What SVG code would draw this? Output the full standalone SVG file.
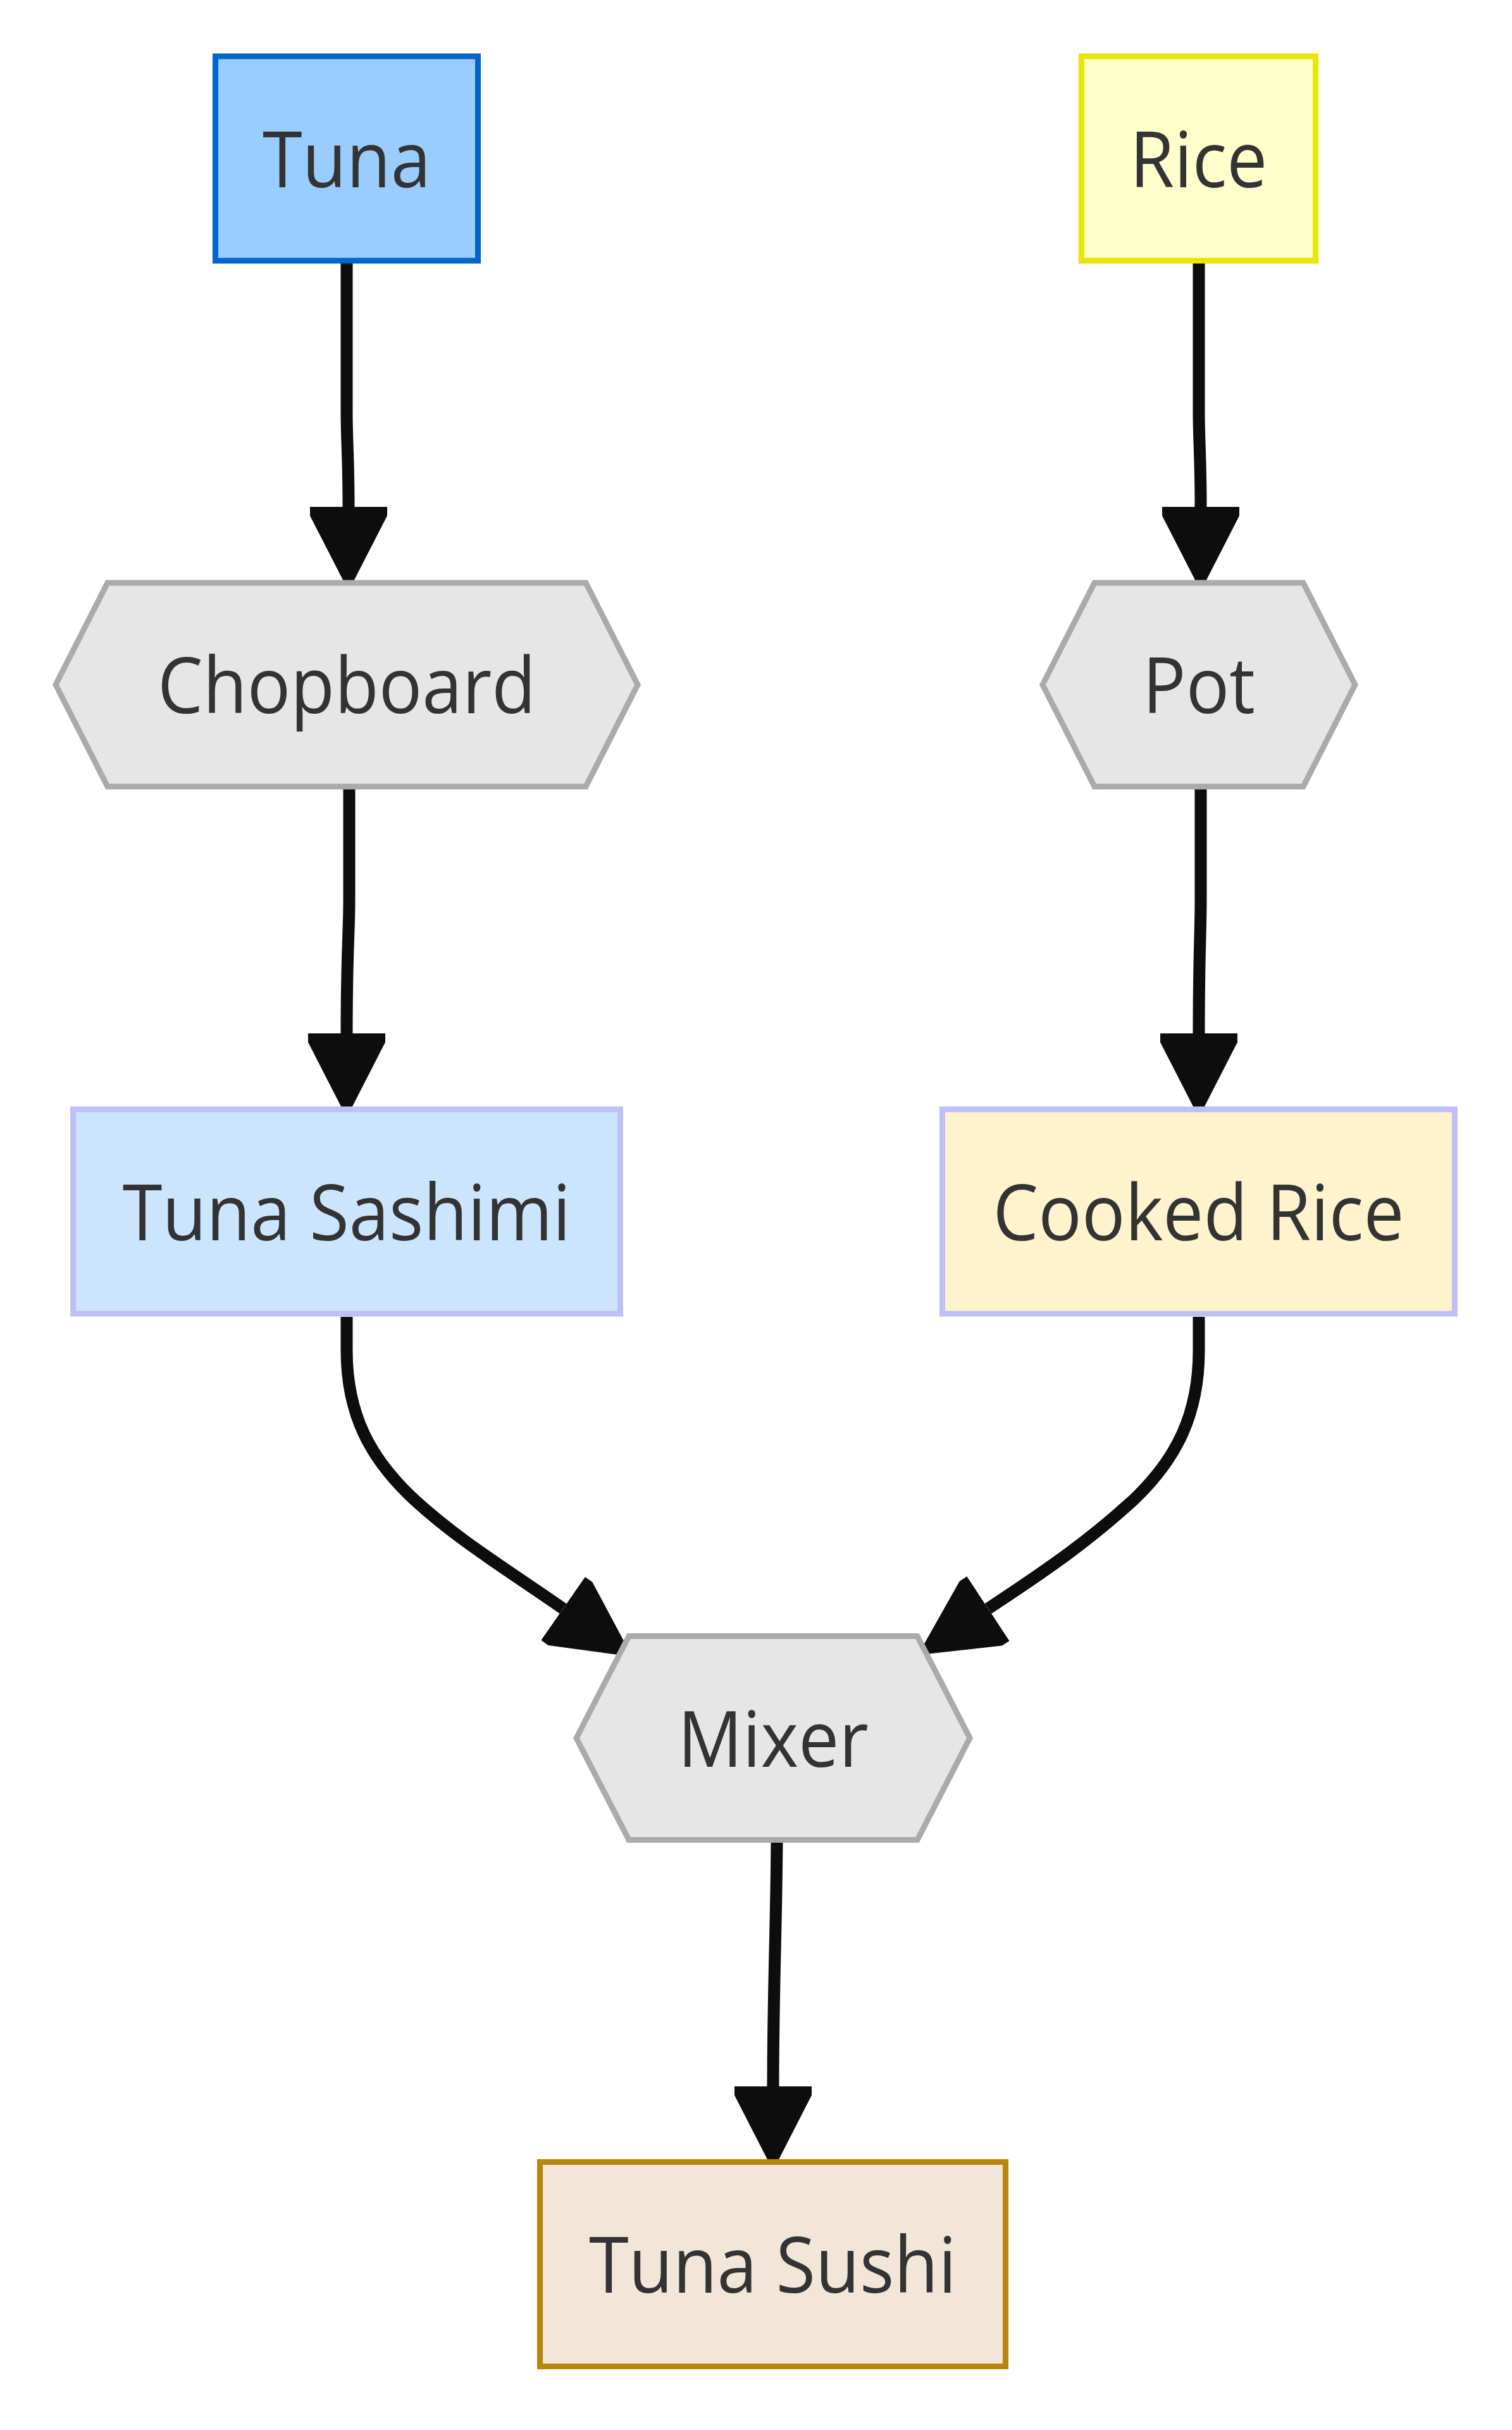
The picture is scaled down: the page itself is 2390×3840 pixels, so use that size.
<svg xmlns="http://www.w3.org/2000/svg" width="2390" height="3840" viewBox="0 0 2390 3840">
<defs>
<marker id="arrow" markerUnits="userSpaceOnUse" viewBox="0 -62 134 124" refX="0" refY="0" markerWidth="134" markerHeight="124" orient="auto">
<path d="M0,-61 L14,-61 L133,0 L14,61 L0,61 Z" fill="#0d0d0d"/>
</marker>
<style>
.edge{fill:none;stroke:#0d0d0d;stroke-width:19;marker-end:url(#arrow)}
.label{font-family:"Open Sans","Noto Sans","DejaVu Sans",sans-serif;font-size:114px;fill:#333333;text-anchor:middle}
.hex{fill:#e6e6e6;stroke:#aaaaaa;stroke-width:9}
.box{stroke-width:9}
</style>
</defs>
<rect width="2390" height="3840" fill="#ffffff"/>
<g id="connectors">
<path class="edge" d="M548,416 L548,650 C548,700 551,720 551,801"/>
<path class="edge" d="M552,1244 L552,1420 C552,1480 548,1500 548,1633"/>
<path class="edge" d="M1895,416 L1895,650 C1895,700 1898,720 1898,801"/>
<path class="edge" d="M1898,1244 L1898,1420 C1898,1480 1895,1500 1895,1633"/>
<path class="edge" d="M548,2081 L548,2134 C548,2235 585,2305 655,2370 C725,2434 795,2476 890,2542"/>
<path class="edge" d="M1895,2081 L1895,2134 C1895,2235 1860,2305 1792,2370 C1722,2434 1662,2476 1562,2542"/>
<path class="edge" d="M1228,2909 C1227,3050 1222,3150 1222,3297"/>
</g>
<g id="node-tuna">
<rect class="box" x="340.5" y="89" width="415" height="323" fill="#99ccff" stroke="#0066cc"/>
<text class="label" transform="translate(548,295.5) scale(1,1.075)">Tuna</text>
</g>
<g id="node-rice">
<rect class="box" x="1709.5" y="89" width="370" height="323" fill="#ffffcc" stroke="#e6e600"/>
<text class="label" transform="translate(1894.5,295.5) scale(1,1.075)">Rice</text>
</g>
<g id="node-chopboard">
<polygon class="hex" points="88,1082 170,921 926,921 1008,1082 926,1243 170,1243"/>
<text class="label" transform="translate(548,1127) scale(1,1.075)">Chopboard</text>
</g>
<g id="node-pot">
<polygon class="hex" points="1648,1082 1730,921 2060,921 2142,1082 2060,1243 1730,1243"/>
<text class="label" transform="translate(1895,1127) scale(1,1.075)">Pot</text>
</g>
<g id="node-tuna-sashimi">
<rect class="box" x="115.5" y="1753" width="865" height="323" fill="#cce5ff" stroke="#bfbff7"/>
<text class="label" transform="translate(548,1960) scale(1,1.075)">Tuna Sashimi</text>
</g>
<g id="node-cooked-rice">
<rect class="box" x="1489.5" y="1753" width="810" height="323" fill="#fff2cc" stroke="#bfbff7"/>
<text class="label" transform="translate(1894.5,1960) scale(1,1.075)">Cooked Rice</text>
</g>
<g id="node-mixer">
<polygon class="hex" points="911,2746.5 994,2585.5 1450,2585.5 1533,2746.5 1450,2907.5 994,2907.5"/>
<text class="label" transform="translate(1222,2791.5) scale(1,1.075)">Mixer</text>
</g>
<g id="node-tuna-sushi">
<rect class="box" x="853.5" y="3416.5" width="736" height="323" fill="#f2e6d9" stroke="#b8860b"/>
<text class="label" transform="translate(1221.5,3623) scale(1,1.075)">Tuna Sushi</text>
</g>
</svg>
